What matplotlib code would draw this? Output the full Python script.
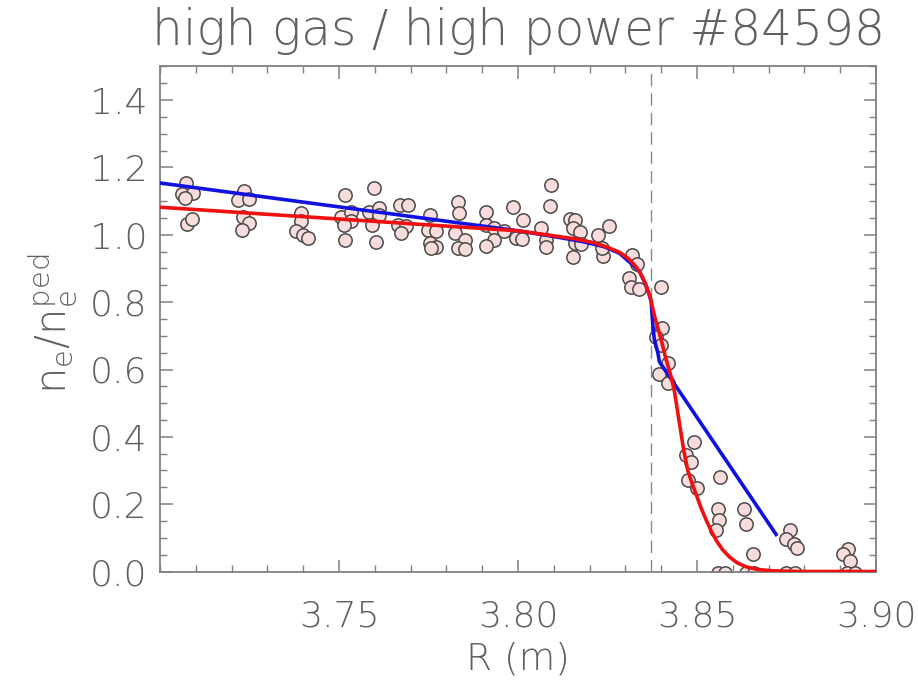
import matplotlib
matplotlib.use("Agg")
import matplotlib.pyplot as plt
from matplotlib.ticker import MultipleLocator, FormatStrFormatter

# ---------------- data ----------------
title = "high gas / high power #84598"
xlabel = "R (m)"
ylabel = r"$\mathregular{n_e/n_e^{ped}}$"

# measured points: R (m) and normalised density
R_pts = [3.7073, 3.7062, 3.7092, 3.7071, 3.7075, 3.7090,
         3.7236, 3.7217, 3.7250, 3.7231, 3.7248, 3.7230,
         3.7394, 3.7394, 3.7380, 3.7399, 3.7413,
         3.7518, 3.7506, 3.7534, 3.7534, 3.7515, 3.7518,
         3.7599, 3.7585, 3.7613, 3.7613, 3.7593, 3.7602,
         3.7669, 3.7692, 3.7664, 3.7688, 3.7674,
         3.7753, 3.7748, 3.7772, 3.7753, 3.7772, 3.7756,
         3.7832, 3.7835, 3.7825, 3.7851, 3.7832, 3.7853,
         3.7911, 3.7911, 3.7934, 3.7932, 3.7911,
         3.7985, 3.8013, 3.7962, 3.7995, 3.8012,
         3.8093, 3.8090, 3.8065, 3.8079, 3.8077,
         3.8144, 3.8158, 3.8153, 3.8172, 3.8158, 3.8177, 3.8155,
         3.8223, 3.8254, 3.8237, 3.8235,
         3.8318, 3.8333, 3.8311, 3.8316, 3.8337,
         3.8400, 3.8403, 3.8386, 3.8400, 3.8418, 3.8395, 3.8418,
         3.8493, 3.8468, 3.8484, 3.8474, 3.8499,
         3.8563, 3.8558, 3.8561, 3.8552,
         3.8630, 3.8637, 3.8656,
         3.8760, 3.8749, 3.8770, 3.8779,
         3.8921, 3.8909, 3.8926,
         3.8558, 3.8578, 3.8637, 3.8660, 3.8749, 3.8773, 3.8918, 3.8942]
n_pts = [1.154, 1.121, 1.124, 1.109, 1.033, 1.047,
         1.129, 1.104, 1.106, 1.054, 1.035, 1.015,
         1.065, 1.040, 1.010, 1.000, 0.990,
         1.119, 1.054, 1.069, 1.040, 1.030, 0.985,
         1.139, 1.069, 1.079, 1.060, 1.030, 0.980,
         1.089, 1.089, 1.030, 1.025, 1.005,
         1.060, 1.015, 1.010, 0.975, 0.965, 0.960,
         1.099, 1.066, 1.005, 0.985, 0.960, 0.957,
         1.069, 1.030, 1.020, 0.985, 0.967,
         1.084, 1.045, 1.010, 0.990, 0.987,
         1.149, 1.086, 1.020, 0.985, 0.963,
         1.047, 1.043, 1.020, 1.007, 0.975, 0.973, 0.935,
         1.000, 1.025, 0.937, 0.960,
         0.940, 0.914, 0.871, 0.844, 0.838,
         0.844, 0.722, 0.697, 0.673, 0.618, 0.588, 0.559,
         0.385, 0.345, 0.325, 0.271, 0.249,
         0.281, 0.187, 0.154, 0.124,
         0.187, 0.140, 0.051,
         0.124, 0.097, 0.082, 0.071,
         0.068, 0.053, 0.031,
         -0.004, -0.004, -0.004, -0.004, -0.004, -0.004, -0.004, -0.004]

# blue fit curve
R_blue = [3.7000, 3.8000, 3.8100, 3.8180, 3.8240, 3.8284, 3.8321, 3.8340,
          3.8355, 3.8367, 3.8372, 3.8377, 3.8381, 3.8391, 3.8395, 3.8721]
n_blue = [1.154, 1.012, 0.995, 0.980, 0.965, 0.945, 0.910, 0.890,
          0.856, 0.821, 0.801, 0.727, 0.688, 0.648, 0.623, 0.110]

# red fit curve
R_red = [3.7000, 3.8000, 3.8100, 3.8160, 3.8210, 3.8250, 3.8284, 3.8310,
         3.8330, 3.8345, 3.8358, 3.8370, 3.8381, 3.8400, 3.8414, 3.8428,
         3.8437, 3.8451, 3.8463, 3.8474, 3.8486, 3.8498, 3.8512, 3.8526,
         3.8540, 3.8554, 3.8572, 3.8591, 3.8612, 3.8637, 3.8670, 3.8711,
         3.8780, 3.9000]
n_red = [1.082, 1.012, 0.997, 0.988, 0.977, 0.963, 0.948, 0.928,
         0.905, 0.880, 0.850, 0.812, 0.760, 0.688, 0.628, 0.578,
         0.535, 0.440, 0.360, 0.301, 0.262, 0.228, 0.187, 0.152,
         0.120, 0.092, 0.064, 0.043, 0.026, 0.014, 0.006, 0.002,
         0.000, 0.000]

R_sep = 3.8372          # dashed separatrix line
xlim = (3.70, 3.90)
ylim = (0.0, 1.5)
xticks = [3.75, 3.80, 3.85, 3.90]
yticks = [0.0, 0.2, 0.4, 0.6, 0.8, 1.0, 1.2, 1.4]

# ---------------- styling ----------------
TXT = "#606060"
FRAME = "#808080"
plt.rcParams['font.family'] = ['DejaVu Sans']
plt.rcParams['font.weight'] = 'light'
plt.rcParams['mathtext.fontset'] = 'custom'
plt.rcParams['mathtext.rm'] = 'DejaVu Sans:light'

fig = plt.figure(figsize=(9.18, 6.83), dpi=100)
ax = fig.add_axes([160/918, 1-571.5/683, 716/918, 505/683])

ax.scatter(R_pts, n_pts, s=92, facecolor="#f9dcdc", edgecolor="#4a4a4a",
           linewidths=1.1, zorder=2, clip_on=True)
ax.axvline(R_sep, color="#8a8a8a", lw=1.0, dashes=(9, 5), zorder=1)
ax.plot(R_blue, n_blue, color="#1010e0", lw=2.6, zorder=3)
ax.plot(R_red, n_red, color="#f01010", lw=2.6, zorder=4)

ax.set_xlim(*xlim)
ax.set_ylim(*ylim)
ax.set_xticks(xticks)
ax.set_yticks(yticks)
ax.xaxis.set_minor_locator(MultipleLocator(0.01))
ax.yaxis.set_minor_locator(MultipleLocator(0.05))
ax.xaxis.set_major_formatter(FormatStrFormatter('%.2f'))
ax.yaxis.set_major_formatter(FormatStrFormatter('%.1f'))

for sp in ax.spines.values():
    sp.set_color(FRAME)
    sp.set_linewidth(1.3)
ax.tick_params(which='both', direction='in', top=True, right=True,
               color=FRAME, labelcolor=TXT, labelsize=26)
ax.tick_params(which='major', length=9, width=1.1)
ax.tick_params(which='minor', length=5, width=1.0)
ax.tick_params(axis='x', which='major', pad=20)
ax.tick_params(axis='y', which='major', pad=9)
for lab in ax.get_xticklabels() + ax.get_yticklabels():
    lab.set_fontweight('light')

ax.text(0.5, 1.043, title, transform=ax.transAxes, ha='center',
        va='baseline', fontsize=35, color=TXT, fontweight='light')
ax.text(0.5, -0.195, xlabel, transform=ax.transAxes, ha='center',
        va='baseline', fontsize=27, color=TXT, fontweight='light')
ax.text(-0.150, 0.49, ylabel, transform=ax.transAxes, ha='center',
        va='center', rotation=90, fontsize=30, color=TXT)

fig.savefig("out.png", dpi=100)
